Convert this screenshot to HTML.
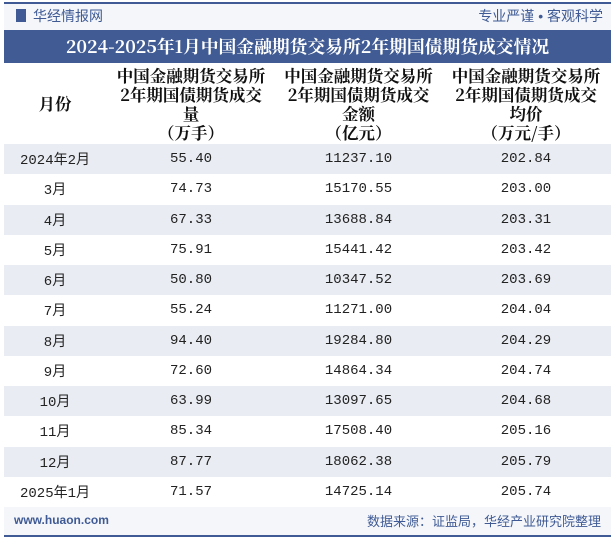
<!DOCTYPE html>
<html><head><meta charset="utf-8"><style>
*{margin:0;padding:0;box-sizing:border-box}
body{width:615px;height:539px;background:#fff;font-family:"Liberation Sans","Noto Sans CJK SC",sans-serif;position:relative;overflow:hidden}
.topline{position:absolute;left:4px;top:2px;width:607px;height:2px;background:#3f5a94}
.hdr{position:absolute;left:4px;top:4px;width:607px;height:26px;background:#f4f6fa}
.logo{position:absolute;left:16px;top:9px;width:10px;height:13px;background:#3f5a94}
.brand{position:absolute;left:33px;top:6px;font-size:14px;color:#3f5a94}
.slogan{position:absolute;right:12px;top:6px;font-size:14px;color:#3f5a94}
.title{position:absolute;left:4px;top:30px;width:607px;height:33px;background:#415c95;color:#fff;font-family:"Noto Serif CJK SC",serif;font-weight:bold;font-size:17.8px;text-align:center;line-height:33px;white-space:nowrap}
table{position:absolute;left:4px;top:63px;width:607px;border-collapse:collapse}
th{font-family:"Noto Serif CJK SC",serif;font-weight:bold;font-size:16.5px;line-height:19px;height:81px;color:#111;white-space:nowrap}
td{height:30.25px;font-family:"Liberation Mono","Noto Sans CJK SC",monospace;font-size:14px;text-align:center;color:#222}
tr.g td{background:#e9ecf2}
.foot{position:absolute;left:4px;top:507px;width:607px;height:28px;background:#f4f6fa}
.url{position:absolute;left:14px;top:513px;font-size:12px;font-weight:bold;color:#3f5a94}
.src{position:absolute;right:14px;top:511px;font-size:13px;color:#3f5a94}
.botline{position:absolute;left:4px;top:535px;width:607px;height:2px;background:#3f5a94}
</style></head><body>
<div class="topline"></div>
<div class="hdr"></div>
<div class="logo"></div>
<div class="brand">华经情报网</div>
<div class="slogan">专业严谨 • 客观科学</div>
<div class="title">2024-2025年1月中国金融期货交易所2年期国债期货成交情况</div>
<table>
<tr>
<th style="width:102px">月份</th>
<th style="width:170px">中国金融期货交易所<br>2年期国债期货成交<br>量<br>（万手）</th>
<th style="width:165px">中国金融期货交易所<br>2年期国债期货成交<br>金额<br>（亿元）</th>
<th style="width:170px">中国金融期货交易所<br>2年期国债期货成交<br>均价<br>（万元/手）</th>
</tr>
<tbody id="tb"></tbody>
</table>
<div class="foot"></div>
<div class="url">www.huaon.com</div>
<div class="src">数据来源：证监局，华经产业研究院整理</div>
<div class="botline"></div>
<script>
const months=["2024年2月","3月","4月","5月","6月","7月","8月","9月","10月","11月","12月","2025年1月"];
const volume=["55.40","74.73","67.33","75.91","50.80","55.24","94.40","72.60","63.99","85.34","87.77","71.57"];
const amount=["11237.10","15170.55","13688.84","15441.42","10347.52","11271.00","19284.80","14864.34","13097.65","17508.40","18062.38","14725.14"];
const price=["202.84","203.00","203.31","203.42","203.69","204.04","204.29","204.74","204.68","205.16","205.79","205.74"];
const tb=document.getElementById('tb');
months.forEach((m,i)=>{
 const tr=document.createElement('tr');
 
 
 if(i%2===0)tr.className='g';
 [m,volume[i],amount[i],price[i]].forEach((v,j)=>{
  const td=document.createElement('td');
  
  
  td.textContent=v;
  tr.appendChild(td);
 });
 tb.appendChild(tr);
});
</script>
</body></html>
